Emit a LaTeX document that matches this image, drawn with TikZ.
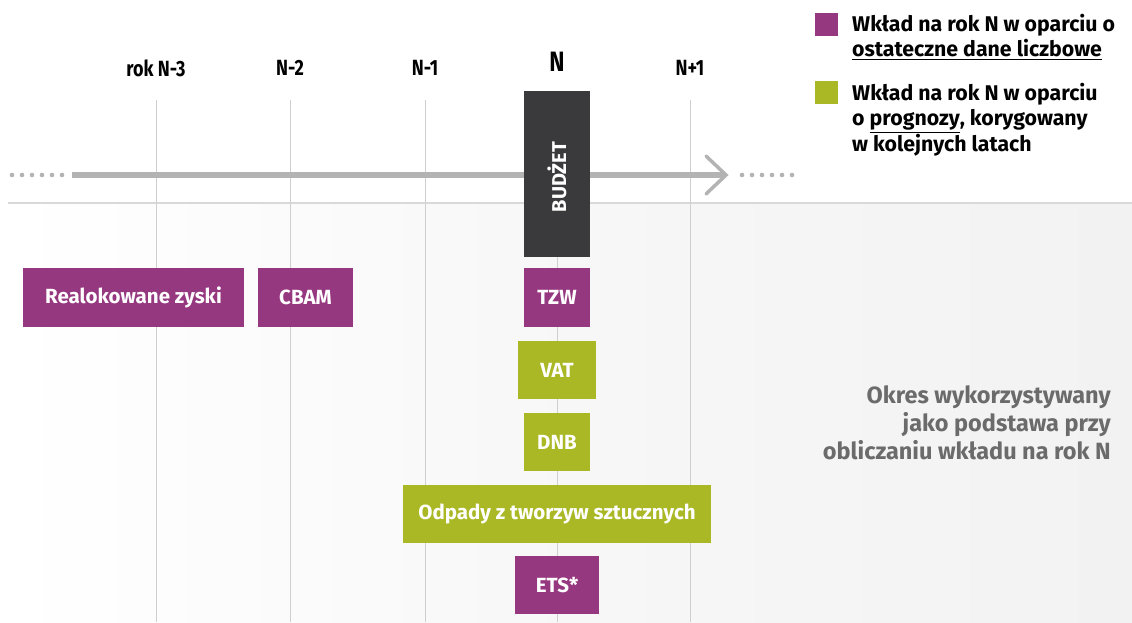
\documentclass[tikz,border=0pt]{standalone}
\usepackage{fontspec}
\setmainfont{Fira Sans}
\newfontfamily\condfont[FakeStretch=0.82]{Fira Sans}
\usetikzlibrary{arrows.meta}
\definecolor{purp}{HTML}{963880}
\definecolor{lime}{HTML}{A9B824}
\definecolor{dark}{HTML}{3A3A3C}
\definecolor{axisg}{HTML}{B3B3B3}
\definecolor{gridg}{HTML}{CFCFCF}
\definecolor{bgg}{HTML}{F2F2F2}
\definecolor{txtg}{HTML}{6B6B6B}
\tikzset{
  box/.style={inner sep=0pt, text=white, font=\bfseries\fontsize{20.5}{24}\selectfont},
  purpbox/.style={box, fill=purp},
  limebox/.style={box, fill=lime},
  yearlab/.style={font=\condfont\bfseries\fontsize{22}{24}\selectfont, text=black, inner sep=0pt},
  gridline/.style={draw=gridg, line width=0.8pt},
  legtext/.style={font=\bfseries\fontsize{21.3}{25.5}\selectfont, align=left, anchor=north west, inner sep=0pt},
}
\newcommand{\rbox}[5]{\node[#1, minimum width=#4-#2, minimum height=#5-#3] at ({(#2+#4)/2},{(#3+#5)/2})}
\begin{document}
\begin{tikzpicture}[x=1pt,y=-1pt]
\useasboundingbox (0,0) rectangle (1132,622);
\fill[white] (0,0) rectangle (1132,622);
% background region
\shade[left color=white, right color=bgg, middle color=bgg!60] (8,203) rectangle (1132,622);
\draw[draw=gridg!80, line width=1.5pt] (8,203) -- (1132,203);
% grid lines
\foreach \x in {156,290,425,557,690} \draw[gridline] (\x,100) -- (\x,622);
% year labels
\node[yearlab] (y3) at (156,68) {rok N-3};
\node[yearlab] (y2) at (290,68) {N-2};
\node[yearlab] (y1) at (425,68) {N-1};
\node[yearlab, font=\condfont\bfseries\fontsize{28}{30}\selectfont] (y0) at (557,62) {N};
\node[yearlab] (yp) at (690,68) {N+1};
% axis
\coordinate (axL) at (72,175);
\coordinate (axR) at (726,175);
\draw[axisg, line width=6pt] (axL) -- (724,175);
\draw[axisg, line width=3.5pt, line cap=round, line join=miter] (706,156) -- (axR) -- (706,194);
\foreach \x in {12,22,...,62} \fill[axisg] (\x,175) circle (2.3);
\foreach \x in {742,752,...,792} \fill[axisg] (\x,175) circle (2.3);
% budget
\rbox{fill=dark, inner sep=0pt}{524}{91}{590}{257} (bud) {};
\node[rotate=90, text=white, font=\bfseries\fontsize{20}{22}\selectfont] (budt) at (557,177) {BUDŻET};
% boxes
\rbox{purpbox}{23}{268}{244}{327} (rz) {Realokowane zyski};
\rbox{purpbox}{258}{268}{353}{327} (cbam) {CBAM};
\rbox{purpbox}{524}{268}{590}{327} (tzw) {TZW};
\rbox{limebox}{518}{341}{596}{399} (vat) {VAT};
\rbox{limebox}{524}{413}{590}{471} (dnb) {DNB};
\rbox{limebox}{403}{485}{711}{543} (odp) {Odpady z tworzyw sztucznych};
\rbox{purpbox}{515}{556}{599}{614} (ets) {ETS*};
% legend
\fill[purp] (815,13) rectangle (838,36);
\node[legtext] (l1) at (852,14) {Wkład na rok N w oparciu o\\\underline{ostateczne dane liczbowe}};
\fill[lime] (815,81) rectangle (838,104);
\node[legtext] (l2) at (852,83) {Wkład na rok N w oparciu\\o \underline{prognozy}, korygowany\\w kolejnych latach};
% right note
\node[font=\bfseries\fontsize{23.5}{28}\selectfont, text=txtg, align=right, anchor=north east, inner sep=0pt] (note) at (1111,385) {Okres wykorzystywany\\jako podstawa przy\\obliczaniu wkładu na rok N};
\end{tikzpicture}
\end{document}
